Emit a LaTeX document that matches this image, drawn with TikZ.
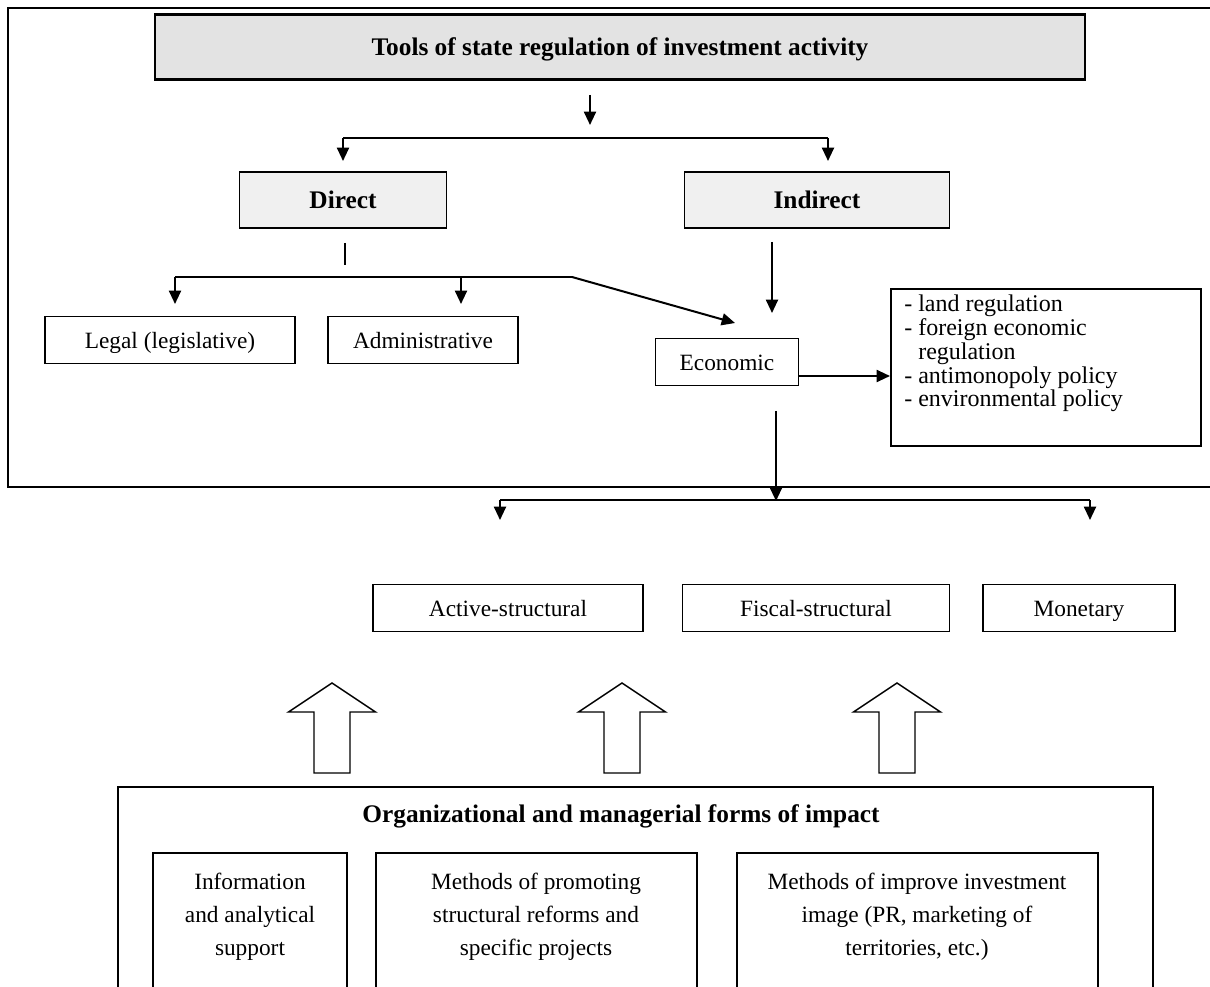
\documentclass[tikz,border=0pt]{standalone}
\usepackage{fontspec}
\setmainfont{Liberation Serif}
\usetikzlibrary{arrows.meta}
\begin{document}
\begin{tikzpicture}[x=0.75pt,y=-0.75pt,
  every node/.style={font=\fontsize{17.5}{21}\selectfont},
  w/.style={minimum width={#1*0.75pt}},
  h/.style={minimum height={#1*0.75pt}},
  box/.style={draw,line width=1.4pt,inner sep=0pt,align=center,text height=13pt,text depth=0pt},
  graybox/.style={box,fill=black!6,font=\fontsize{19}{22}\selectfont\bfseries},
  titlebox/.style={box,line width=2pt,fill=black!11,font=\fontsize{19}{22}\selectfont\bfseries},
  frame/.style={draw,line width=1.5pt},
  conn/.style={line width=1.5pt},
  arr/.style={conn,-{Triangle[length=10pt,width=9pt]}},
  blockarrow/.style={draw,line width=1.1pt,fill=white,line join=miter}]
\useasboundingbox (0,0) rectangle (1210,987);
\clip (0,0) rectangle (1210,987);
% outer frames
\draw[frame] (1220,8) -- (8,8) -- (8,487) -- (1220,487);
\draw[frame] (118,1000) -- (118,787) -- (1153,787) -- (1153,1000);
% top
\node[titlebox,w=930,h=65] (title) at (620,47) {Tools of state regulation of investment activity};
\node[graybox,w=207,h=56] (direct) at (343,200) {Direct};
\node[graybox,w=265,h=56] (indirect) at (817,200) {Indirect};
\coordinate (t1) at (590,95);
\coordinate (t2) at (590,125);
\draw[arr] (t1) -- (t2);
\coordinate (bl) at (343,138);
\coordinate (br) at (828,138);
\draw[conn] (bl) -- (br);
\draw[arr] (bl) -- (bl |- 0,161);
\draw[arr] (br) -- (br |- 0,161);
% second level
\node[box,w=250,h=47] (legal) at (170,340) {Legal (legislative)};
\node[box,w=190,h=47] (admin) at (423,340) {Administrative};
\node[box,w=143,h=47] (econ) at (727,362) {Economic};
\node[box,w=310,h=157,anchor=north west] (list) at (890,288) {};
\node[anchor=north west,align=left,inner sep=0pt,font=\fontsize{18}{17.8}\selectfont] (listtext) at (904,295)
  {- land regulation\\- foreign economic\\\hphantom{- }regulation\\- antimonopoly policy\\- environmental policy};
\coordinate (d1) at (345,243);
\coordinate (d2) at (345,265);
\draw[conn] (d1) -- (d2);
\coordinate (hl) at (175,277);
\coordinate (hk) at (572,277);
\coordinate (hm) at (461,277);
\draw[conn] (hl) -- (hk);
\draw[arr] (hl) -- (hl |- 0,304);
\draw[arr] (hm) -- (hm |- 0,304);
\draw[arr] (hk) -- (735,323);
\coordinate (i1) at (772,242);
\draw[arr] (i1) -- (772,313);
\draw[arr] (econ.east |- 0,376) -- (list.west |- 0,376);
% third level
\node[box,w=270,h=47] (active) at (508,608) {Active-structural};
\node[box,w=267,h=47] (fiscal) at (816,608) {Fiscal-structural};
\node[box,w=192,h=47] (monet) at (1079,608) {Monetary};
\coordinate (e1) at (776,411);
\coordinate (e2) at (776,501);
\draw[arr] (e1) -- (e2);
\coordinate (al) at (500,500);
\coordinate (ar) at (1090,500);
\draw[conn] (al) -- (ar);
\draw[arr] (al) -- (al |- 0,520);
\draw[arr] (ar) -- (ar |- 0,520);
% block arrows
\foreach \cx in {332,622,897}
  \draw[blockarrow] (\cx,683) -- (\cx+43.5,712) -- (\cx+18,712) -- (\cx+18,773) -- (\cx-18,773) -- (\cx-18,712) -- (\cx-43.5,712) -- cycle;
% bottom block
\node[font=\fontsize{19}{22}\selectfont\bfseries] (orgtitle) at (621,816) {Organizational and managerial forms of impact};
\draw[box] (153,1000) -- (153,853) -- (347,853) -- (347,1000);
\draw[box] (376,1000) -- (376,853) -- (697,853) -- (697,1000);
\draw[box] (737,1000) -- (737,853) -- (1098,853) -- (1098,1000);
\node[align=center,font=\fontsize{17.5}{25}\selectfont,anchor=north] (info) at (250,868) {Information\\and analytical\\support};
\node[align=center,font=\fontsize{17.5}{25}\selectfont,anchor=north] (promo) at (536,868) {Methods of promoting\\structural reforms and\\specific projects};
\node[align=center,font=\fontsize{17.5}{25}\selectfont,anchor=north] (image) at (917,868) {Methods of improve investment\\image (PR, marketing of\\territories, etc.)};
\end{tikzpicture}
\end{document}
